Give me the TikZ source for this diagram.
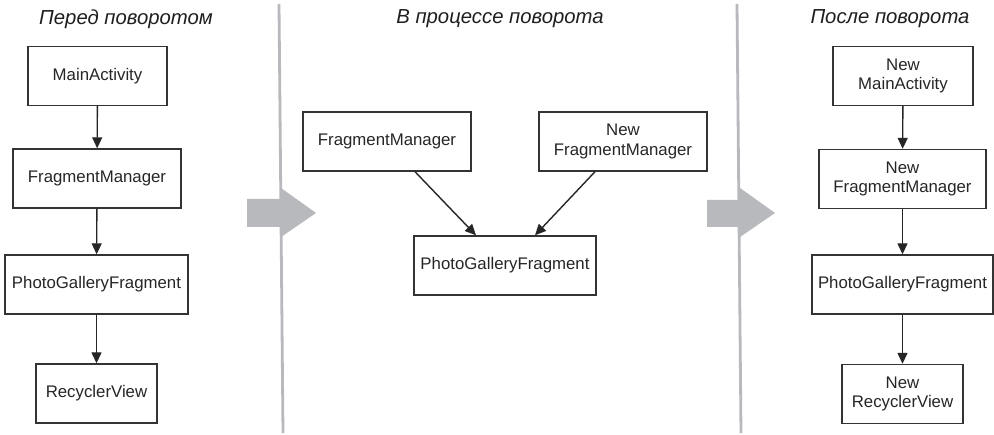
\documentclass[tikz,border=0pt]{standalone}
\usepackage{fontspec}
\setmainfont{Liberation Sans}
\usetikzlibrary{arrows.meta}
\definecolor{boxline}{HTML}{333333}
\definecolor{boxtext}{HTML}{262626}
\definecolor{panelgray}{HTML}{B8B9BC}
\begin{document}
\begin{tikzpicture}[x=1pt,y=-1pt,
  box/.style={draw=boxline, line width=1.4pt, minimum height=59pt, inner sep=2pt,
    align=center, text=boxtext, font=\fontsize{16.8}{19.5}\selectfont},
  link/.style={draw=black!85, line width=1.4pt, -{Triangle[length=11pt,width=10pt]}},
  title/.style={font=\fontsize{20.3}{23}\selectfont\itshape, text=black!88, inner sep=0pt},
  divider/.style={draw=panelgray, line width=2.8pt},
  blockarrow/.style={fill=panelgray, draw=none}]
\useasboundingbox (0,0) rectangle (994,435);
\fill[white] (0,0) rectangle (994,435);

% dividers and block arrows
\fill[blockarrow] (247,199) -- (281,199) -- (281,188) -- (316,213) -- (281,237) -- (281,227) -- (247,227) -- cycle;
\fill[blockarrow] (707,200) -- (740,200) -- (740,188) -- (775,213) -- (740,237) -- (740,227) -- (707,227) -- cycle;
\coordinate (d1t) at (279,4);
\coordinate (d1b) at (283,433);
\coordinate (d2t) at (737,4);
\coordinate (d2b) at (741,433);
\draw[divider] (d1t) -- (d1b);
\draw[divider] (d2t) -- (d2b);

% titles
\node[title] (t1) at (126,19) {Перед поворотом};
\node[title] (t2) at (500,19) {В процессе поворота};
\node[title] (t3) at (890,19) {После поворота};

% left column
\node[box, minimum width=139pt] (ma) at (97.5,76) {MainActivity};
\node[box, minimum width=168pt] (fm) at (97,178.5) {FragmentManager};
\node[box, minimum width=183pt] (pgf) at (96.5,284.5) {PhotoGalleryFragment};
\node[box, minimum width=121pt] (rv) at (96.5,393.5) {RecyclerView};
\draw[link] (ma) -- (fm);
\draw[link] (fm) -- (pgf);
\draw[link] (pgf) -- (rv);

% middle column
\node[box, minimum width=168pt] (fm2) at (387,141.5) {FragmentManager};
\node[box, minimum width=168pt] (nfm2) at (623,141.5) {New\\FragmentManager};
\node[box, minimum width=182pt] (pgf2) at (505,265.5) {PhotoGalleryFragment};
\draw[link] ([xshift=28pt]fm2.south) -- ([xshift=-29pt]pgf2.north);
\draw[link] ([xshift=-28pt]nfm2.south) -- ([xshift=30pt]pgf2.north);

% right column
\node[box, minimum width=140pt] (nma) at (903,76) {New\\MainActivity};
\node[box, minimum width=167pt] (nfm) at (902.5,179) {New\\FragmentManager};
\node[box, minimum width=181pt] (pgf3) at (902.5,284.5) {PhotoGalleryFragment};
\node[box, minimum width=121pt] (nrv) at (902.5,394) {New\\RecyclerView};
\draw[link] (nma) -- (nfm);
\draw[link] (nfm) -- (pgf3);
\draw[link] (pgf3) -- (nrv);
\end{tikzpicture}
\end{document}
